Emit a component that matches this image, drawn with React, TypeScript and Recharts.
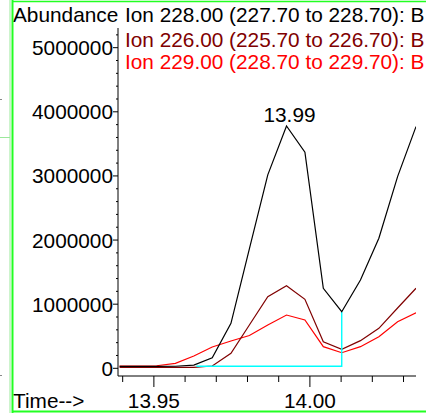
import { LineChart, Line, XAxis, YAxis } from 'recharts';

// retention time (min) of each scan
const times = [
  13.939, 13.945, 13.9509, 13.9569, 13.9628, 13.9687, 13.9747, 13.9806, 13.9865,
  13.9925, 13.9984, 14.0043, 14.0102, 14.0162, 14.0221, 14.0281, 14.034,
];
const ion228 = [
  30000, 30000, 30000, 32000, 51000, 165000, 702000, 1861000, 3016000,
  3780000, 3370000, 1248000, 883000, 1378000, 2028000, 2989000, 3769000,
];
const ion226 = [
  15000, 15000, 15000, 15000, 15000, 36000, 234000, 675000, 1117000,
  1289000, 1076000, 415000, 296000, 431000, 624000, 940000, 1248000,
];
const ion229 = [
  36000, 36000, 40000, 78000, 192000, 332000, 426000, 512000, 675000,
  831000, 754000, 337000, 243000, 337000, 493000, 727000, 867000,
];
// integration baseline of the 13.99 peak
const baseTimes = [13.9636, 14.0102, 14.0102];
const baseValues = [31000, 31000, 883000];

const legendLines = [
  'Ion 228.00 (227.70 to 228.70): B',
  'Ion 226.00 (225.70 to 226.70): B',
  'Ion 229.00 (228.70 to 229.70): B',
];
const xTicks = [13.94, 13.95, 13.96, 13.97, 13.98, 13.99, 14.0, 14.01, 14.02, 14.03];
const xLabels = ['13.95', '14.00'];
const yTicks = [
  0, 200000, 400000, 600000, 800000, 1000000, 1200000, 1400000, 1600000, 1800000,
  2000000, 2200000, 2400000, 2600000, 2800000, 3000000, 3200000, 3400000, 3600000,
  3800000, 4000000, 4200000, 4400000, 4600000, 4800000, 5000000, 5200000,
];

const rows = times.map((t, i) => ({ t, a: ion228[i], b: ion226[i], c: ion229[i] }));
const baseRows = baseTimes.map((t, i) => ({ t, base: baseValues[i] }));
const peakIdx = ion228.indexOf(Math.max(...ion228));

const FONT = '"Liberation Sans", Arial, sans-serif';
const FS = 20.8;
const GREEN = '#22ff22';

const YTick = ({ x, y, payload }: any) => {
  const major = payload.value % 1000000 === 0;
  return (
    <g>
      <line x1={x - (major ? 5 : 2)} x2={x} y1={y} y2={y} stroke="#000" />
      {major && (
        <text x={x - 5} y={y} dy={7.5} textAnchor="end" fontSize={FS} fill="#000" fontFamily={FONT}>
          {payload.value}
        </text>
      )}
    </g>
  );
};

const XTick = ({ x, y, payload }: any) => {
  const label = Number(payload.value).toFixed(2);
  const major = xLabels.includes(label);
  return (
    <g>
      <line x1={x} x2={x} y1={y} y2={y + (major ? 11 : 6)} stroke="#000" />
      {major && (
        <text x={x} y={y + 32} textAnchor="middle" fontSize={FS} fill="#000" fontFamily={FONT}>
          {label}
        </text>
      )}
    </g>
  );
};

const PeakLabel = ({ x, y, index }: any) => {
  if (index !== peakIdx) return null;
  return (
    <text x={x + 3} y={y - 4} textAnchor="middle" fontSize={FS} fill="#000" fontFamily={FONT}>
      {times[peakIdx].toFixed(2)}
    </text>
  );
};

export default function App() {
  return (
    <div style={{ position: 'absolute', left: 0, top: 0, width: 426, height: 413, background: '#fff', overflow: 'hidden', fontFamily: FONT }}>
      <LineChart width={426} height={413} data={rows} margin={{ top: 28, right: 10, left: 0, bottom: 0 }}>
        <XAxis
          dataKey="t"
          type="number"
          domain={[13.9385, 14.034]}
          allowDataOverflow
          ticks={xTicks}
          interval={0}
          height={37}
          tickSize={0}
          tickMargin={0}
          tick={<XTick />}
          axisLine={{ stroke: '#000' }}
        />
        <YAxis
          type="number"
          domain={[-120000, 5307000]}
          allowDataOverflow
          ticks={yTicks}
          interval={0}
          width={118}
          tickSize={0}
          tickMargin={0}
          tick={<YTick />}
          axisLine={{ stroke: '#000' }}
        />
        <Line type="linear" dataKey="c" stroke="#ff0000" strokeWidth={1.2} dot={false} isAnimationActive={false} />
        <Line type="linear" dataKey="b" stroke="#800000" strokeWidth={1.2} dot={false} isAnimationActive={false} />
        <Line data={baseRows} type="linear" dataKey="base" stroke="#00ffff" strokeWidth={1.4} dot={false} isAnimationActive={false} />
        <Line type="linear" dataKey="a" stroke="#000" strokeWidth={1.2} dot={false} isAnimationActive={false} label={<PeakLabel />} />
      </LineChart>
      <svg width={426} height={413} style={{ position: 'absolute', left: 0, top: 0, pointerEvents: 'none' }}>
        <text x={13} y={22} fontSize={FS} fill="#000" fontFamily={FONT}>Abundance</text>
        <text x={125} y={22} fontSize={FS} fill="#000" fontFamily={FONT}>{legendLines[0]}</text>
        <text x={125} y={46.5} fontSize={FS} fill="#800000" fontFamily={FONT}>{legendLines[1]}</text>
        <text x={125} y={68.5} fontSize={FS} fill="#ff0000" fontFamily={FONT}>{legendLines[2]}</text>
        <text x={13} y={407.5} fontSize={FS} fill="#000" fontFamily={FONT}>Time--&gt;</text>
        {/* window frame */}
        <line x1={10} y1={0} x2={10} y2={413} stroke="#9be89b" strokeWidth={1} />
        <line x1={0} y1={137.5} x2={10} y2={137.5} stroke="#9be89b" strokeWidth={1} />
        <line x1={12.5} y1={0} x2={12.5} y2={413} stroke={GREEN} strokeWidth={2} />
        <line x1={12} y1={1.5} x2={426} y2={1.5} stroke={GREEN} strokeWidth={1.5} />
        <line x1={12} y1={411.5} x2={426} y2={411.5} stroke={GREEN} strokeWidth={2} />
        <rect x={0} y={99} width={2} height={1} fill="#888" />
        <rect x={0} y={375} width={2} height={1} fill="#888" />
      </svg>
    </div>
  );
}
